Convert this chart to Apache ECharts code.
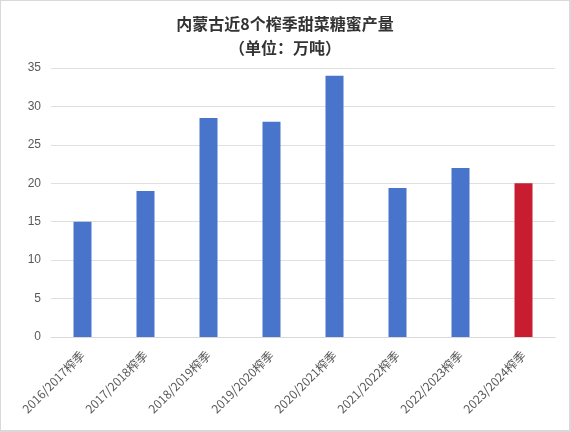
<!DOCTYPE html>
<html>
<head>
<meta charset="utf-8">
<script src="https://cdn.jsdelivr.net/npm/echarts@6/dist/echarts.min.js"></script>
<style>
html, body { margin: 0; padding: 0; background: #fff; }
#chart { width: 571px; height: 432px; box-sizing: border-box; border: 1px solid #d9d9d9; border-bottom-width: 2px; border-right-width: 2px; }
</style>
</head>
<body>
<div id="chart"></div>
<script>
// 榨季
var seasons = ['2016/2017榨季', '2017/2018榨季', '2018/2019榨季', '2019/2020榨季',
    '2020/2021榨季', '2021/2022榨季', '2022/2023榨季', '2023/2024榨季'];
// 产量 万吨
var output = [15, 19, 28.5, 28, 34, 19.4, 22, 20];
var yTicks = [0, 5, 10, 15, 20, 25, 30, 35];

var blue = '#4874cb';
var red = '#c81d31';

var myChart = echarts.init(document.getElementById('chart'));
var option = {
    animation: false,
    title: {
        text: '内蒙古近8个榨季甜菜糖蜜产量\n（单位：万吨）',
        left: 'center',
        top: 6,
        textStyle: {
            fontFamily: 'Noto Sans CJK SC',
            fontSize: 16,
            fontWeight: 'bold',
            color: '#333333',
            lineHeight: 24
        }
    },
    grid: {
        left: 50,
        right: 14,
        top: 67,
        bottom: 93
    },
    xAxis: {
        type: 'category',
        data: seasons,
        axisLine: { lineStyle: { color: '#d9d9d9', width: 1 } },
        axisTick: { show: false },
        axisLabel: {
            rotate: 45,
            interval: 0,
            margin: 16,
            fontSize: 12,
            color: '#595959',
            fontFamily: 'Noto Sans CJK SC'
        }
    },
    yAxis: {
        type: 'value',
        min: yTicks[0],
        max: yTicks[yTicks.length - 1],
        interval: 5,
        axisLine: { show: false },
        axisTick: { show: false },
        splitLine: { lineStyle: { color: '#e0e0e0', width: 1 } },
        axisLabel: {
            fontSize: 12,
            color: '#595959',
            margin: 10,
            fontFamily: 'Liberation Sans'
        }
    },
    series: [{
        type: 'bar',
        barWidth: 18,
        data: output.map(function (v, i) {
            return {
                value: v,
                itemStyle: { color: i === output.length - 1 ? red : blue }
            };
        })
    }]
};
myChart.setOption(option);
</script>
</body>
</html>
